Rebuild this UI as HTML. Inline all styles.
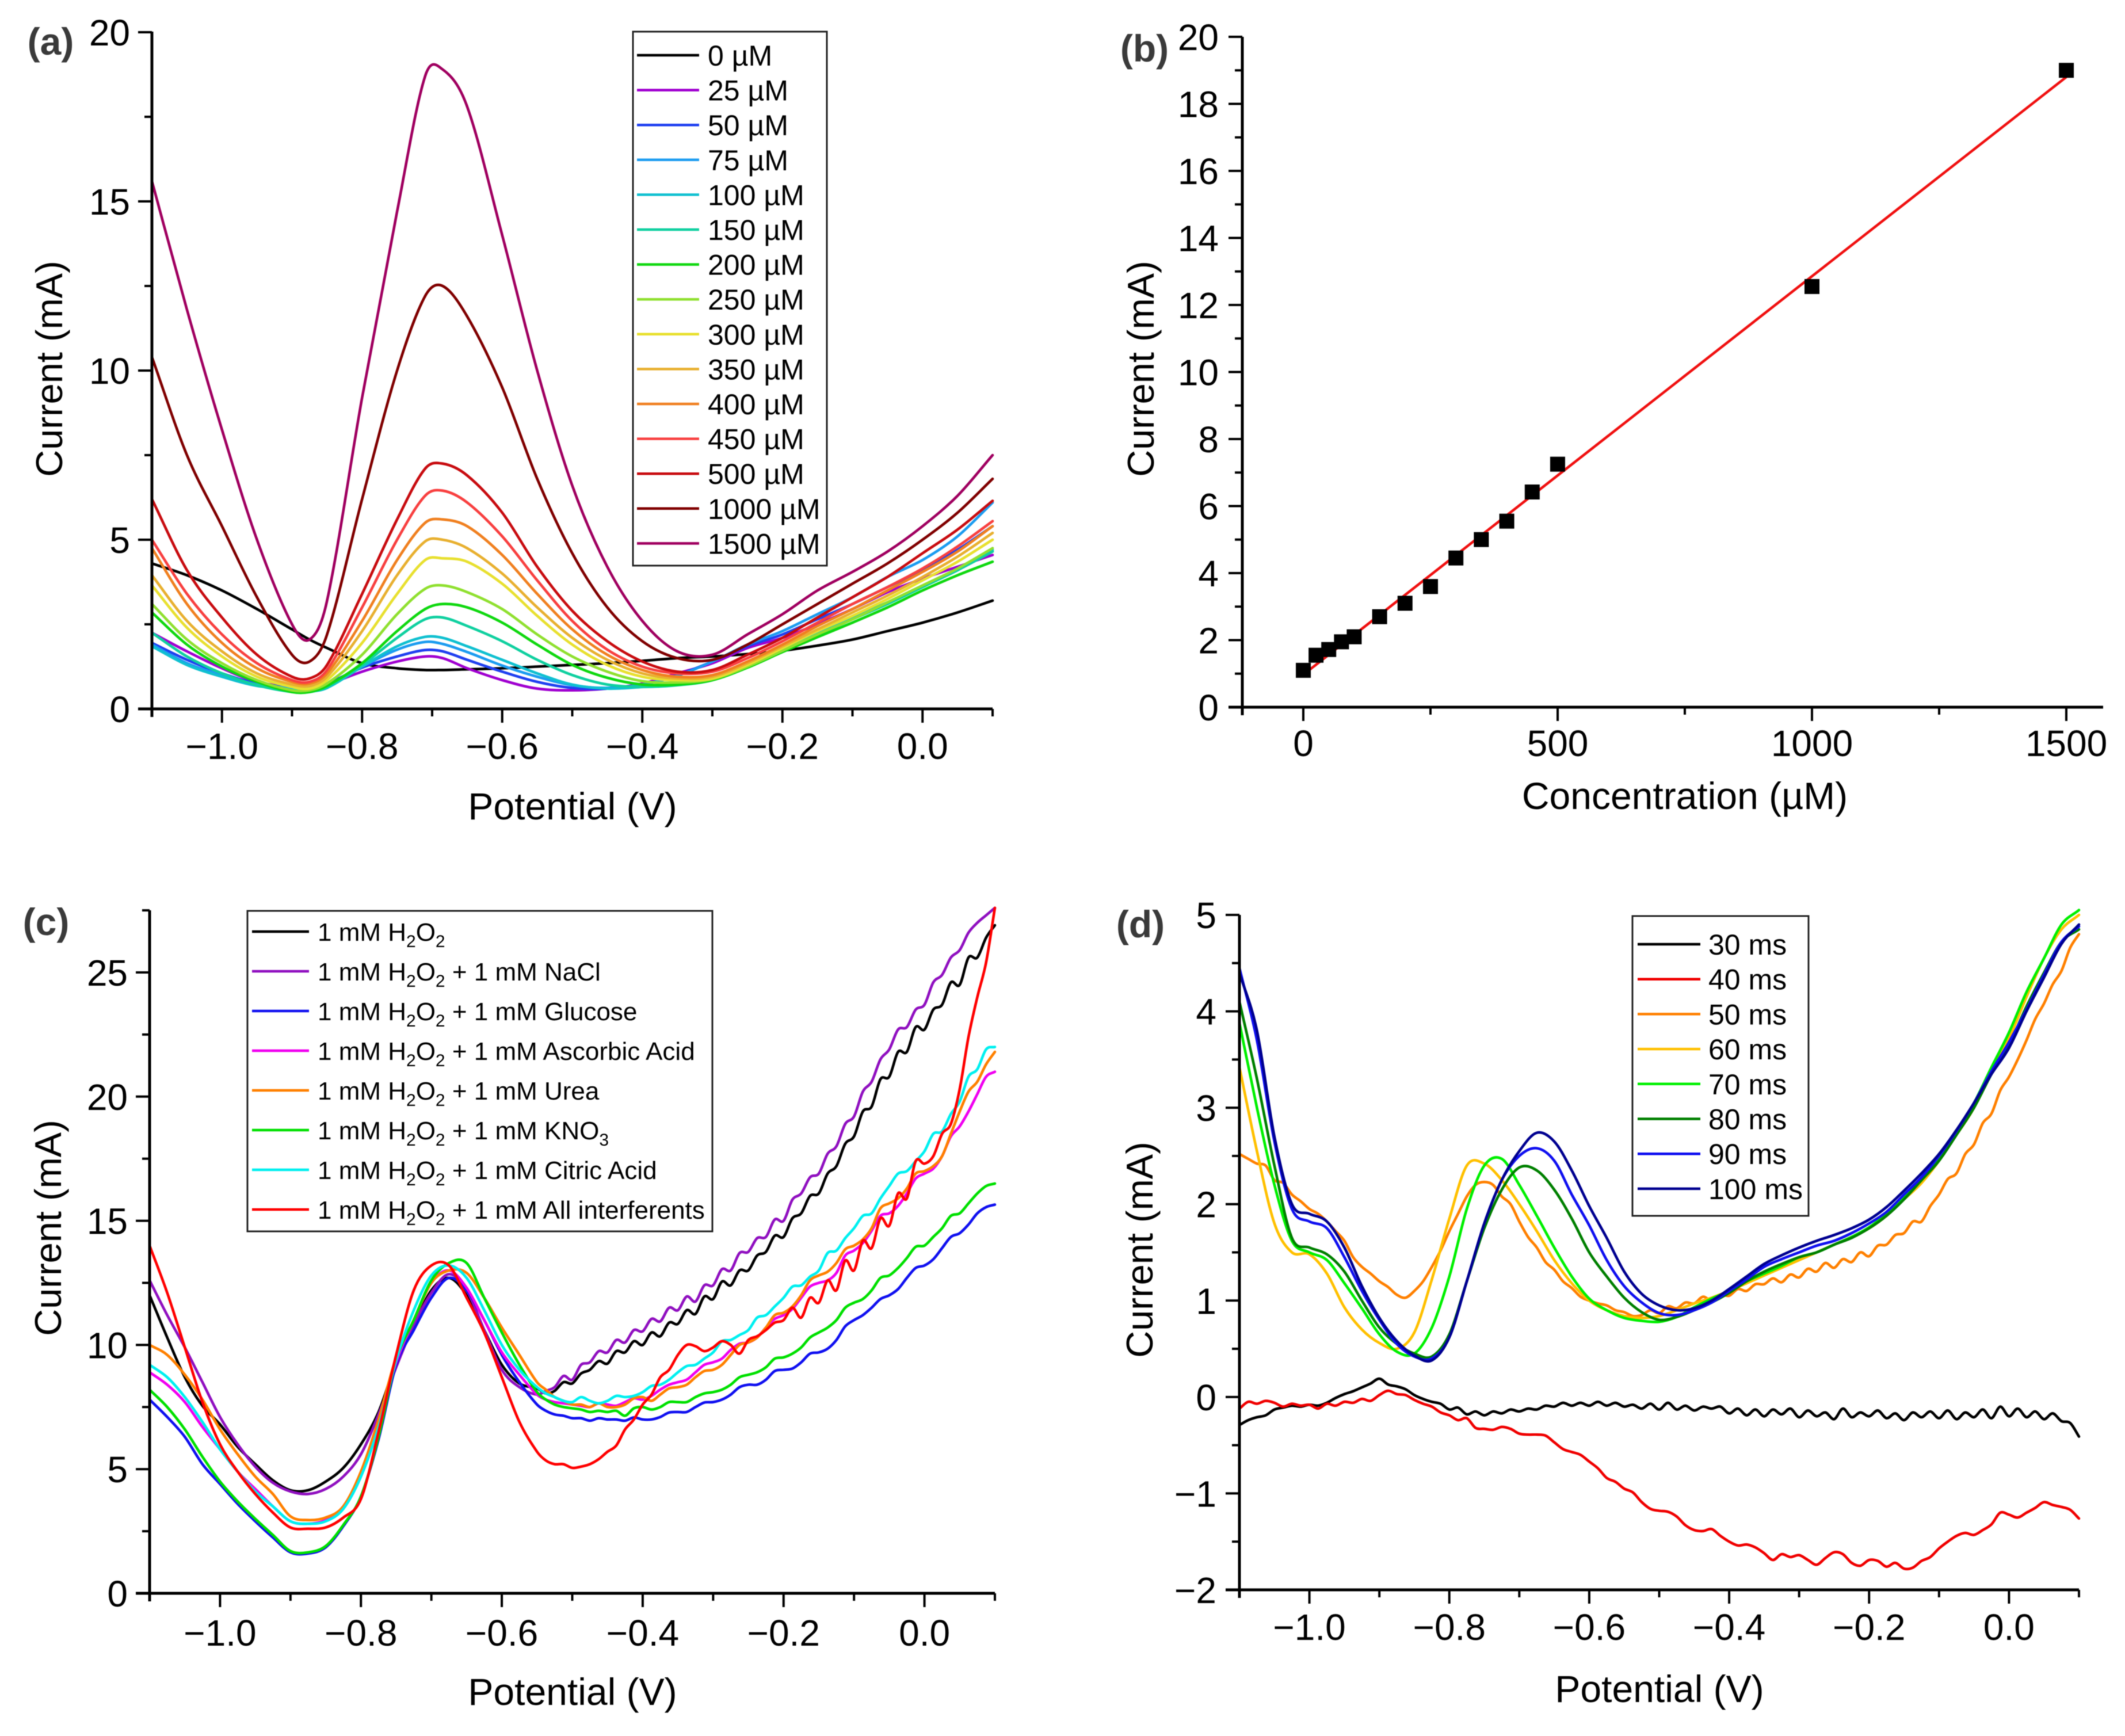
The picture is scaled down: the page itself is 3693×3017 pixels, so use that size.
<!DOCTYPE html>
<html lang="en">
<head>
<meta charset="utf-8">
<title>Electrochemical current response charts</title>
<style>
html,body{margin:0;padding:0;background:#fff;}
svg{display:block;font-family:"Liberation Sans",Arial,sans-serif;filter:blur(0.8px);}
text{fill:#000;}
</style>
</head>
<body>
<svg id="figure" xmlns="http://www.w3.org/2000/svg" width="3693" height="3017" viewBox="0 0 3693 3017">
<rect width="3693" height="3017" fill="#ffffff"/>
</svg>
<script>
// ---------- Panel (a) data ----------
const aPotential = [-1.1,-1.05,-1,-.95,-.9,-.875,-.85,-.8,-.75,-.71,-.685,-.65,-.6,-.55,-.5,-.45,-.4,-.35,-.3,-.25,-.2,-.15,-.1,-.05,0,.05,.1];
const aLabels = ['0 µM','25 µM','50 µM','75 µM','100 µM','150 µM','200 µM','250 µM','300 µM','350 µM','400 µM','450 µM','500 µM','1000 µM','1500 µM'];
const a0 = [4.3,3.95,3.5,2.95,2.35,2.05,1.8,1.35,1.2,1.15,1.15,1.17,1.2,1.25,1.3,1.35,1.42,1.5,1.55,1.62,1.72,1.87,2.05,2.3,2.55,2.85,3.2];
const a25 = [2.25,1.7,1.2,.8,.65,.6,.72,1.1,1.4,1.55,1.5,1.2,.85,.6,.55,.6,.75,1.05,1.35,1.8,2.1,2.5,2.95,3.45,3.85,4.2,4.55];
const a50 = [1.95,1.45,1.05,.75,.65,.62,.75,1.22,1.55,1.74,1.7,1.45,1.1,.8,.62,.6,.72,1,1.4,1.85,2.2,2.65,3.1,3.6,4.1,4.7,5.4];
const a75 = [1.9,1.35,1,.72,.62,.6,.7,1.25,1.75,1.98,1.92,1.68,1.28,.95,.7,.62,.72,.98,1.4,1.9,2.3,2.8,3.3,3.9,4.4,5.1,6.1];
const a100 = [1.85,1.3,.95,.68,.58,.52,.62,1.25,1.85,2.13,2.1,1.85,1.45,1.05,.72,.6,.65,.75,.95,1.35,1.78,2.25,2.7,3.15,3.62,4.1,4.7];
const a150 = [2.25,1.55,1.05,.7,.5,.5,.65,1.3,2.1,2.65,2.7,2.45,2,1.45,1,.72,.65,.7,.85,1.25,1.72,2.18,2.65,3.1,3.6,4.1,4.65];
const a200 = [2.85,1.9,1.25,.8,.5,.5,.68,1.35,2.3,2.95,3.1,3,2.55,1.9,1.3,.92,.72,.72,.85,1.22,1.68,2.12,2.55,3,3.5,3.95,4.35];
const a250 = [3.1,2.05,1.35,.85,.55,.55,.75,1.6,2.8,3.55,3.65,3.45,2.95,2.2,1.55,1.1,.82,.78,.88,1.25,1.72,2.2,2.65,3.15,3.65,4.15,4.75];
const a300 = [3.65,2.4,1.55,.95,.65,.6,.85,1.95,3.4,4.4,4.45,4.35,3.7,2.75,1.9,1.3,.95,.85,.9,1.3,1.8,2.3,2.75,3.25,3.8,4.35,5];
const a350 = [3.95,2.6,1.7,1.05,.72,.68,.95,2.3,3.95,4.95,5,4.75,4,3,2.1,1.45,1.05,.9,.95,1.35,1.85,2.35,2.85,3.35,3.9,4.5,5.2];
const a400 = [4.75,3.1,1.95,1.2,.8,.75,1.05,2.6,4.4,5.5,5.6,5.4,4.55,3.4,2.35,1.6,1.15,.95,1,1.4,1.9,2.45,2.95,3.5,4.05,4.65,5.4];
const a450 = [5,3.4,2.2,1.35,.85,.8,1.15,3,5,6.3,6.45,6.1,5.1,3.8,2.6,1.75,1.25,1.05,1.1,1.5,2,2.55,3.1,3.6,4.15,4.8,5.55];
const a500 = [6.2,4.1,2.7,1.6,.95,.9,1.3,3.4,5.6,7.1,7.25,6.9,5.8,4.2,2.9,2,1.4,1.1,1.15,1.6,2.1,2.7,3.3,3.9,4.6,5.3,6.15];
const a1000 = [10.4,7.5,5.4,3.3,1.6,1.4,2.2,6.2,10,12.2,12.5,11.6,9.5,6.8,4.6,3,2,1.5,1.45,1.9,2.5,3.1,3.7,4.3,5,5.8,6.8];
const a1500 = [15.6,11.8,8.25,5,2.5,2.05,3.2,9.2,14.7,18.7,18.9,17.8,14,10,6.6,4.2,2.6,1.7,1.6,2.2,2.8,3.5,4.05,4.65,5.4,6.3,7.5];
const aXTicks = [-1,-.8,-.6,-.4,-.2,0];
const aXMinor = [-1.1,-.9,-.7,-.5,-.3,-.1,.1];
const aYTicks = [0,5,10,15,20];
const aYMinor = [2.5,7.5,12.5,17.5];

// ---------- Panel (b) data ----------
const bConc = [0,25,50,75,100,150,200,250,300,350,400,450,500,1000,1500];
const bCurrent = [1.1,1.55,1.72,1.95,2.1,2.7,3.1,3.6,4.45,5,5.55,6.42,7.25,12.55,19];
const bFitConc = [0,1500];
const bFitCurrent = [.97,18.8];
const bXTicks = [0,500,1000,1500];
const bXMinor = [250,750,1250];
const bYTicks = [0,2,4,6,8,10,12,14,16,18,20];
const bYMinor = [1,3,5,7,9,11,13,15,17,19];

// ---------- Panel (c) data ----------
const cPotential = [-1.1,-1.075,-1.05,-1.025,-1,-.975,-.95,-.925,-.9,-.875,-.85,-.825,-.8,-.775,-.75,-.725,-.7,-.675,-.65,-.625,-.6,-.575,-.55,-.5375,-.525,-.5125,-.5,-.4875,-.475,-.4625,-.45,-.4375,-.425,-.4125,-.4,-.3875,-.375,-.3625,-.35,-.3375,-.325,-.3125,-.3,-.2875,-.275,-.2625,-.25,-.2375,-.225,-.2125,-.2,-.1875,-.175,-.1625,-.15,-.1375,-.125,-.1125,-.1,-.0875,-.075,-.0625,-.05,-.0375,-.025,-.0125,0,.0125,.025,.0375,.05,.0625,.075,.0875,.1];
const cLabels = ['1 mM H_2O_2','1 mM H_2O_2 + 1 mM NaCl','1 mM H_2O_2 + 1 mM Glucose','1 mM H_2O_2 + 1 mM Ascorbic Acid','1 mM H_2O_2 + 1 mM Urea','1 mM H_2O_2 + 1 mM KNO_3','1 mM H_2O_2 + 1 mM Citric Acid','1 mM H_2O_2 + 1 mM All interferents'];
const cPeroxide = [12,10.3,8.7,7.55,6.8,5.9,5.2,4.55,4.15,4.15,4.5,5.05,6,7.3,9.3,10.8,12.2,12.7,12,10.6,9.2,8.45,8.25, 8.05,8.15,8.5,8.45,8.85,9,9.35,9.25,9.75,9.7,10.15,10,10.5,10.35,10.9,10.85,11.4,11.25,11.95,11.85,12.55,12.4,13,13,13.6,13.75,14.4,14.35,15.1,15.3,16,16.1,16.9,17.2,18.1,18.4,19.4,19.6,20.7,20.8,21.8,21.8,22.8,22.7,23.5,23.7,24.6,24.5,25.6,25.6,26.4,26.9];
const cNaCl = [12.6,11.2,9.9,8.5,7.1,6,5.1,4.45,4.1,4,4.2,4.7,5.6,7.2,9.1,10.8,12.1,12.85,12.2,10.6,9,8.3,8, 8.15,8.3,8.75,8.6,9.2,9.3,9.75,9.7,10.2,10.1,10.6,10.55,11.05,10.95,11.5,11.4,11.95,11.75,12.4,12.4,13.05,13,13.7,13.75,14.3,14.35,15.05,15,15.85,16.1,16.75,16.9,17.7,18,18.9,19.2,20.2,20.6,21.5,21.9,22.7,22.8,23.5,23.7,24.6,24.9,25.6,25.9,26.6,27,27.3,27.6];
const cGlucose = [7.8,7.1,6.3,5.2,4.4,3.6,2.9,2.25,1.65,1.6,1.85,2.7,3.9,6.2,9.2,10.6,11.9,12.7,12.2,11,9.6,8.5,7.6, 7.35,7.2,7.15,7.05,7.05,6.95,7.05,7,7,6.95,7.08,7,7,7.1,7.28,7.3,7.3,7.5,7.68,7.7,7.8,8,8.3,8.4,8.4,8.6,8.95,9,9.05,9.3,9.65,9.7,9.85,10.2,10.75,11,11.2,11.5,11.85,12,12.25,12.7,13.1,13.2,13.45,13.9,14.35,14.5,14.85,15.3,15.55,15.65];
const cAscorbic = [8.9,8.4,7.7,6.7,5.8,4.9,4.2,3.5,2.9,2.8,2.95,3.5,4.8,6.8,9.3,11,12.5,13,12.3,11,9.7,8.8,8, 7.8,7.7,7.65,7.6,7.55,7.5,7.65,7.6,7.55,7.7,7.85,7.8,7.95,8.2,8.4,8.5,8.6,8.9,9.2,9.3,9.45,9.8,10.05,10.1,10.3,10.7,11.05,11.2,11.45,11.9,12.35,12.5,12.6,12.9,13.6,13.8,14.1,14.6,15.2,15.3,15.6,16.1,16.7,16.9,17.1,17.6,18.4,18.8,19.4,20.1,20.8,21];
const cUrea = [10,9.6,8.8,7.8,6.6,5.6,4.7,4,3.1,2.95,3.05,3.5,4.9,7,9.5,11,12.5,13,12.9,11.9,10.7,9.6,8.5, 8.2,7.9,7.75,7.6,7.6,7.5,7.65,7.5,7.5,7.6,7.85,7.9,7.75,8,8.25,8.3,8.4,8.7,8.95,9,9.2,9.6,10,10.1,10.3,10.7,11.2,11.3,11.55,12,12.6,12.8,12.95,13.3,13.85,14,14.25,14.7,15.5,15.7,15.9,16.3,16.9,17,17.2,17.6,18.5,19.4,20.2,20.6,21.3,21.8];
const cKNO3 = [8.2,7.5,6.6,5.5,4.5,3.7,3,2.35,1.7,1.65,1.9,2.75,3.9,6.3,9.4,11,12.6,13.3,13.3,11.9,10.5,9.2,8.1, 7.8,7.6,7.5,7.45,7.4,7.3,7.35,7.3,7.35,7.15,7.45,7.5,7.4,7.5,7.7,7.7,7.7,7.9,8.05,8.1,8.2,8.4,8.7,8.8,8.9,9.1,9.45,9.5,9.65,9.9,10.3,10.5,10.7,11,11.5,11.7,11.85,12.2,12.7,12.8,13.1,13.5,13.95,14,14.35,14.7,15.2,15.3,15.7,16.1,16.4,16.5];
const cCitric = [9.2,8.7,7.9,6.9,5.8,4.9,4.1,3.5,2.9,2.8,2.9,3.4,4.7,6.7,9.4,11.4,12.8,13.2,12.7,11.4,10,9,8.3, 8.05,7.9,7.75,7.7,7.9,7.75,7.65,7.75,7.95,7.9,7.95,8.1,8.35,8.4,8.6,8.9,9.15,9.2,9.45,9.7,10.15,10.2,10.4,10.6,11.1,11.2,11.55,11.9,12.35,12.4,12.75,13,13.7,13.8,14.3,14.7,15.2,15.3,15.9,16.4,16.9,17,17.4,17.8,18.5,18.6,19.3,19.8,20.8,21.1,21.9,22];
const cAll = [14,12.1,9.9,7.7,6,4.9,4,3.25,2.65,2.6,2.65,3.05,3.8,6.5,9.6,12.2,13.2,13.2,11.9,10.5,8.7,6.9,5.7, 5.35,5.2,5.2,5.05,5.1,5.2,5.4,5.7,5.95,6.6,7,7.6,8,8.7,9,9.6,10,9.95,9.75,9.9,10.15,10,9.65,10.2,10.35,10.6,10.9,11,11.5,11.1,11.9,11.7,12.6,12.2,13.4,13,14.2,13.9,15.1,14.8,16.1,15.9,17.4,17.3,17.6,18.5,18.9,20.3,22.4,24,25.4,27.6];
const cXTicks = [-1,-.8,-.6,-.4,-.2,0];
const cXMinor = [-1.1,-.9,-.7,-.5,-.3,-.1,.1];
const cYTicks = [0,5,10,15,20,25];
const cYMinor = [2.5,7.5,12.5,17.5,22.5,27.5];

// ---------- Panel (d) data ----------
const dCoarsePotential = [-1.1,-1.075,-1.05,-1.025,-1,-.975,-.95,-.925,-.9,-.875,-.85,-.825,-.8,-.775,-.75,-.725,-.7,-.675,-.65,-.625,-.6,-.575,-.55,-.525,-.5,-.475,-.45,-.425,-.4,-.375,-.35,-.325,-.3,-.275,-.25,-.225,-.2,-.175,-.15,-.125,-.1,-.075,-.05,-.025,0,.025,.05,.075,.1];
const dFinePotential = [-1.1,-1.0875,-1.075,-1.0625,-1.05,-1.0375,-1.025,-1.0125,-1,-.9875,-.975,-.9625,-.95,-.9375,-.925,-.9125,-.9,-.8875,-.875,-.8625,-.85,-.8375,-.825,-.8125,-.8,-.7875,-.775,-.7625,-.75,-.7375,-.725,-.7125,-.7,-.6875,-.675,-.6625,-.65,-.6375,-.625,-.6125,-.6,-.5875,-.575,-.5625,-.55,-.5375,-.525,-.5125,-.5,-.4875,-.475,-.4625,-.45,-.4375,-.425,-.4125,-.4,-.3875,-.375,-.3625,-.35,-.3375,-.325,-.3125,-.3,-.2875,-.275,-.2625,-.25,-.2375,-.225,-.2125,-.2,-.1875,-.175,-.1625,-.15,-.1375,-.125,-.1125,-.1,-.0875,-.075,-.0625,-.05,-.0375,-.025,-.0125,0,.0125,.025,.0375,.05,.0625,.075,.0875,.1];
const dLabels = ['30 ms','40 ms','50 ms','60 ms','70 ms','80 ms','90 ms','100 ms'];
const d30 = [-.29,-.24,-.21,-.19,-.13,-.11,-.09,-.1,-.08,-.09, -.06,-.01,.03,.06,.1,.14,.19,.13,.11,.08, .02,-.02,-.05,-.07,-.13,-.11,-.18,-.15,-.19,-.15, -.17,-.13,-.15,-.12,-.13,-.09,-.1,-.06,-.09,-.06, -.09,-.05,-.09,-.06,-.1,-.08,-.12,-.07,-.13,-.06, -.13,-.09,-.14,-.1,-.12,-.1,-.17,-.12,-.19,-.13, -.2,-.13,-.18,-.12,-.21,-.14,-.2,-.16,-.23,-.12, -.21,-.16,-.2,-.14,-.22,-.17,-.24,-.16,-.21,-.15, -.22,-.14,-.23,-.16,-.21,-.13,-.22,-.1,-.2,-.12, -.21,-.15,-.23,-.17,-.25,-.27,-.41];
const d40 = [-.12,-.05,-.07,-.04,-.06,-.1,-.07,-.09,-.08,-.12, -.07,-.09,-.05,-.06,-.02,-.04,.02,.065,.03,.02, -.03,-.07,-.1,-.16,-.19,-.24,-.22,-.32,-.33,-.34, -.31,-.33,-.38,-.39,-.39,-.4,-.47,-.54,-.57,-.6, -.67,-.74,-.84,-.88,-.95,-.99,-1.09,-1.16,-1.18,-1.19, -1.24,-1.33,-1.38,-1.39,-1.37,-1.44,-1.5,-1.54,-1.53,-1.56, -1.62,-1.69,-1.63,-1.66,-1.64,-1.69,-1.74,-1.67,-1.61,-1.63, -1.72,-1.75,-1.69,-1.7,-1.76,-1.72,-1.78,-1.77,-1.7,-1.66, -1.57,-1.5,-1.44,-1.41,-1.43,-1.38,-1.32,-1.2,-1.22,-1.25, -1.2,-1.15,-1.09,-1.12,-1.14,-1.17,-1.26];
const d50 = [2.52,2.47,2.42,2.4,2.25,2.22,2.1,2.03,1.95,1.9, 1.82,1.72,1.62,1.45,1.35,1.28,1.2,1.14,1.06,1.03, 1.1,1.2,1.35,1.52,1.72,1.9,2.08,2.2,2.23,2.2, 2.08,2,1.82,1.66,1.55,1.4,1.32,1.2,1.13,1.04, 1,.97,.95,.9,.88,.84,.85,.9,.87,.94, .92,.98,.97,1.04,1,1.06,1.05,1.12,1.1,1.17, 1.17,1.23,1.19,1.27,1.24,1.33,1.3,1.39,1.34,1.43, 1.4,1.5,1.46,1.57,1.58,1.68,1.7,1.82,1.82,1.98, 2.1,2.26,2.32,2.52,2.62,2.84,2.94,3.18,3.32,3.5, 3.7,3.92,4.08,4.28,4.42,4.66,4.8];
const d60 = [3.42,2.55,1.8,1.5,1.48,1.28,.93,.7,.56,.5,.67,1.22,1.85,2.4,2.42,2.25,2,1.72,1.42,1.18,1,.9,.84,.82,.84,.9,.97,1.03,1.1,1.18,1.26,1.34,1.42,1.5,1.58,1.66,1.75,1.88,2.05,2.22,2.45,2.72,3,3.4,3.72,4.15,4.55,4.85,5];
const d70 = [3.88,3,2.2,1.62,1.5,1.42,1.18,.92,.65,.47,.45,.72,1.25,1.95,2.4,2.47,2.2,1.88,1.55,1.25,1.02,.9,.82,.79,.78,.83,.93,1.02,1.1,1.2,1.28,1.36,1.45,1.5,1.58,1.66,1.76,1.9,2.07,2.25,2.47,2.74,3.05,3.42,3.78,4.2,4.55,4.9,5.05];
const d80 = [4.1,3.3,2.4,1.65,1.55,1.48,1.3,1,.72,.55,.45,.42,.65,1.2,1.75,2.15,2.38,2.35,2.15,1.85,1.5,1.25,1.03,.88,.8,.83,.9,.98,1.08,1.2,1.3,1.38,1.45,1.5,1.58,1.65,1.75,1.88,2.05,2.25,2.45,2.72,3,3.35,3.65,4.05,4.4,4.72,4.85];
const d90 = [4.45,3.7,2.65,1.95,1.82,1.75,1.45,1.1,.8,.55,.42,.4,.62,1.2,1.8,2.25,2.5,2.58,2.45,2.1,1.78,1.42,1.15,.98,.87,.85,.9,.98,1.1,1.22,1.35,1.43,1.5,1.57,1.62,1.7,1.8,1.92,2.1,2.28,2.5,2.76,3.05,3.38,3.68,4.02,4.38,4.72,4.88];
const d100 = [4.4,3.8,2.7,2,1.9,1.82,1.55,1.15,.82,.58,.43,.38,.62,1.2,1.8,2.25,2.55,2.74,2.65,2.35,1.98,1.65,1.3,1.07,.95,.9,.92,1,1.12,1.25,1.38,1.47,1.55,1.62,1.68,1.75,1.84,1.97,2.14,2.32,2.52,2.77,3.05,3.35,3.62,4,4.35,4.7,4.9];
const dXTicks = [-1,-.8,-.6,-.4,-.2,0];
const dXMinor = [-1.1,-.9,-.7,-.5,-.3,-.1,.1];
const dYTicks = [-2,-1,0,1,2,3,4,5];
const dYMinor = [-1.5,-.5,.5,1.5,2.5,3.5,4.5];

// ---------- Helpers ----------
const NS = 'http://www.w3.org/2000/svg';
const fig = document.getElementById('figure');
function make(tag, parent, attrs) {
  const el = document.createElementNS(NS, tag);
  for (const k in attrs) el.setAttribute(k, attrs[k]);
  parent.appendChild(el);
  return el;
}
function scale(d0, d1, r0, r1) {
  return v => r0 + (v - d0) * (r1 - r0) / (d1 - d0);
}
function fmt(v, digits) {
  const s = Math.abs(v).toFixed(digits);
  return (v < 0 ? '\u2212' : '') + s;
}
function smoothPath(xs, ys, sx, sy) {
  const p = xs.map((x, i) => [sx(x), sy(ys[i])]);
  const n = p.length;
  const m = p.map((_, i) => {
    const a = p[Math.max(i - 1, 0)], b = p[Math.min(i + 1, n - 1)];
    return (b[1] - a[1]) / (b[0] - a[0]);
  });
  let d = 'M' + p[0][0].toFixed(1) + ' ' + p[0][1].toFixed(1);
  for (let i = 0; i < n - 1; i++) {
    const dx = p[i + 1][0] - p[i][0];
    d += 'C' + (p[i][0] + dx / 3).toFixed(1) + ' ' + (p[i][1] + m[i] * dx / 3).toFixed(1) + ' ' +
      (p[i + 1][0] - dx / 3).toFixed(1) + ' ' + (p[i + 1][1] - m[i + 1] * dx / 3).toFixed(1) + ' ' +
      p[i + 1][0].toFixed(1) + ' ' + p[i + 1][1].toFixed(1);
  }
  return d;
}
function linePath(xs, ys, sx, sy) {
  return xs.map((x, i) => (i ? 'L' : 'M') + sx(x).toFixed(1) + ' ' + sy(ys[i]).toFixed(1)).join('');
}
function richLabel(textEl, label) {
  const parts = label.split('_');
  parts.forEach((part, i) => {
    if (i === 0) {
      const t = make('tspan', textEl, {});
      t.textContent = part;
      return;
    }
    const sub = make('tspan', textEl, {dy: 11, 'font-size': 30});
    sub.textContent = part.charAt(0);
    const rest = make('tspan', textEl, {dy: -11});
    rest.textContent = part.slice(1);
  });
}

function drawAxes(g, o) {
  const ax = make('g', g, {});
  
  
  const sw = 5;
  const xLine = make('line', ax, {x1: o.left - 24, x2: o.right, y1: o.bottom, y2: o.bottom, stroke: '#000', 'stroke-width': sw});
  
  
  const yLine = make('line', ax, {x1: o.left, x2: o.left, y1: o.top, y2: o.bottom + 14, stroke: '#000', 'stroke-width': sw});
  
  
  o.xTicks.forEach(v => {
    const t = make('line', ax, {x1: o.sx(v), x2: o.sx(v), y1: o.bottom, y2: o.bottom + 24, stroke: '#000', 'stroke-width': 4});
    
    
    const l = make('text', ax, {x: o.sx(v), y: o.xLabelY, 'text-anchor': 'middle', 'font-size': 64});
    l.textContent = fmt(v, o.xDigits);
    
    
  });
  o.xMinor.forEach(v => {
    const t = make('line', ax, {x1: o.sx(v), x2: o.sx(v), y1: o.bottom, y2: o.bottom + 13, stroke: '#000', 'stroke-width': 4});
    
    
  });
  o.yTicks.forEach(v => {
    const t = make('line', ax, {x1: o.left - 24, x2: o.left, y1: o.sy(v), y2: o.sy(v), stroke: '#000', 'stroke-width': 4});
    
    
    const l = make('text', ax, {x: o.yLabelX, y: o.sy(v) + 23, 'text-anchor': 'end', 'font-size': 64});
    l.textContent = fmt(v, 0);
    
    
  });
  o.yMinor.forEach(v => {
    const t = make('line', ax, {x1: o.left - 13, x2: o.left, y1: o.sy(v), y2: o.sy(v), stroke: '#000', 'stroke-width': 4});
    
    
  });
  const xt = make('text', ax, {x: o.xTitleX, y: o.xTitleY, 'text-anchor': 'middle', 'font-size': 66});
  xt.textContent = o.xTitle;
  
  
  const yt = make('text', ax, {x: 0, y: 0, 'text-anchor': 'middle', 'font-size': 65, transform: 'translate(' + o.yTitleX + ' ' + o.yTitleY + ') rotate(-90)'});
  yt.textContent = o.yTitle;
  
  
  const pl = make('text', ax, {x: o.panelX, y: o.panelY, 'text-anchor': 'middle', 'font-size': 66, 'font-weight': 'bold', style: 'fill:#3a3a3a'});
  pl.textContent = o.panel;
  
  
}

function drawLegend(g, o) {
  const lg = make('g', g, {});
  
  
  const box = make('rect', lg, {x: o.x, y: o.y, width: o.w, height: o.h, fill: '#fff', stroke: '#222', 'stroke-width': 3});
  
  
  o.labels.forEach((label, i) => {
    const y = o.firstY + i * o.step;
    const h = make('line', lg, {x1: o.hx1, x2: o.hx2, y1: y, y2: y, stroke: o.colors[i], 'stroke-width': 4.5});
    
    
    const t = make('text', lg, {x: o.tx, y: y + o.fs * 0.36, 'font-size': o.fs});
    richLabel(t, label);
    
    
  });
}

function drawSeries(g, xsList, seriesList, colors, sx, sy, names) {
  seriesList.forEach((ys, i) => {
    const p = make('path', g, {d: smoothPath(xsList[i], ys, sx, sy), fill: 'none', stroke: colors[i], 'stroke-width': 4.6, 'stroke-linejoin': 'round', 'stroke-linecap': 'round'});
    
    
  });
}

// ---------- Panel (a) ----------
const aColors = ['#000000','#a000d0','#2040f0','#1c9cf0','#10c0d0','#10d0a0','#10d810','#90e030','#e8e030','#e8b030','#f08020','#f84040','#c80c10','#800000','#a00060'];
const aSeries = [a0,a25,a50,a75,a100,a150,a200,a250,a300,a350,a400,a450,a500,a1000,a1500];
const gA = make('g', fig, {});


const axA = {left: 264, right: 1725, top: 55, bottom: 1232,
  sx: scale(-1.1, .1, 264, 1725), sy: scale(0, 20, 1232, 56),
  xTicks: aXTicks, xMinor: aXMinor, yTicks: aYTicks, yMinor: aYMinor, xDigits: 1,
  xLabelY: 1319, yLabelX: 226, xTitle: 'Potential (V)', yTitle: 'Current (mA)',
  xTitleX: 995, xTitleY: 1424, yTitleX: 108, yTitleY: 641, panel: '(a)', panelX: 88, panelY: 95};
drawSeries(gA, aSeries.map(() => aPotential), aSeries, aColors, axA.sx, axA.sy, aLabels.map(s => s.replace(' µM', 'uM')));
drawAxes(gA, axA);
drawLegend(gA, {x: 1100, y: 55, w: 337, h: 928, labels: aLabels, colors: aColors, firstY: 96, step: 60.6, hx1: 1107, hx2: 1215, tx: 1230, fs: 50});

// ---------- Panel (b) ----------
const gB = make('g', fig, {});


const bSx = scale(0, 1500, 2265, 3591);
const bSy = scale(0, 20, 1229, 64);
const fitB = make('path', gB, {d: linePath(bFitConc, bFitCurrent, bSx, bSy), fill: 'none', stroke: '#f01010', 'stroke-width': 4.5});


bConc.forEach((c, i) => {
  const r = make('rect', gB, {x: bSx(c) - 13, y: bSy(bCurrent[i]) - 13, width: 26, height: 26, fill: '#000'});
  
  
});
drawAxes(gB, {left: 2159, right: 3655, top: 64, bottom: 1229, sx: bSx, sy: bSy,
  xTicks: bXTicks, xMinor: bXMinor, yTicks: bYTicks, yMinor: bYMinor, xDigits: 0,
  xLabelY: 1314, yLabelX: 2118, xTitle: 'Concentration (µM)', yTitle: 'Current (mA)',
  xTitleX: 2928, xTitleY: 1406, yTitleX: 2005, yTitleY: 641, panel: '(b)', panelX: 1989, panelY: 107});

// ---------- Panel (c) ----------
const cColors = ['#000000','#9010c0','#1010f0','#f000f0','#ff8000','#00e000','#00f0f0','#ff0000'];
const cSeries = [cPeroxide,cNaCl,cGlucose,cAscorbic,cUrea,cKNO3,cCitric,cAll];
const cNames = ['h2o2','nacl','glucose','ascorbic-acid','urea','kno3','citric-acid','all-interferents'];
const gC = make('g', fig, {});


const cSx = scale(-1.1, .1, 260, 1729);
const cSy = scale(0, 25, 2769, 1690);
drawSeries(gC, cSeries.map(() => cPotential), cSeries, cColors, cSx, cSy, cNames);
drawAxes(gC, {left: 260, right: 1729, top: 1582, bottom: 2769, sx: cSx, sy: cSy,
  xTicks: cXTicks, xMinor: cXMinor, yTicks: cYTicks, yMinor: cYMinor, xDigits: 1,
  xLabelY: 2860, yLabelX: 222, xTitle: 'Potential (V)', yTitle: 'Current (mA)',
  xTitleX: 995, xTitleY: 2963, yTitleX: 106, yTitleY: 2134, panel: '(c)', panelX: 80, panelY: 1625});
drawLegend(gC, {x: 430, y: 1583, w: 808, h: 557, labels: cLabels, colors: cColors, firstY: 1619, step: 69, hx1: 438, hx2: 537, tx: 552, fs: 44});

// ---------- Panel (d) ----------
const dColors = ['#000000','#f00000','#ff8000','#ffc000','#00f000','#008000','#1010f0','#000090'];
const dSeries = [d30,d40,d50,d60,d70,d80,d90,d100];
const dGrids = [dFinePotential,dFinePotential,dFinePotential,dCoarsePotential,dCoarsePotential,dCoarsePotential,dCoarsePotential,dCoarsePotential];
const gD = make('g', fig, {});


const dSx = scale(-1.1, .1, 2154, 3613);
const dSy = scale(-2, 5, 2763, 1590);
drawSeries(gD, dGrids, dSeries, dColors, dSx, dSy, dLabels.map(s => s.replace(' ', '')));
drawAxes(gD, {left: 2154, right: 3613, top: 1590, bottom: 2763, sx: dSx, sy: dSy,
  xTicks: dXTicks, xMinor: dXMinor, yTicks: dYTicks, yMinor: dYMinor, xDigits: 1,
  xLabelY: 2850, yLabelX: 2114, xTitle: 'Potential (V)', yTitle: 'Current (mA)',
  xTitleX: 2884, xTitleY: 2958, yTitleX: 2003, yTitleY: 2172, panel: '(d)', panelX: 1982, panelY: 1629});
drawLegend(gD, {x: 2837, y: 1592, w: 306, h: 521, labels: dLabels, colors: dColors, firstY: 1641, step: 60.7, hx1: 2846, hx2: 2955, tx: 2969, fs: 50});
</script>
</body>
</html>
